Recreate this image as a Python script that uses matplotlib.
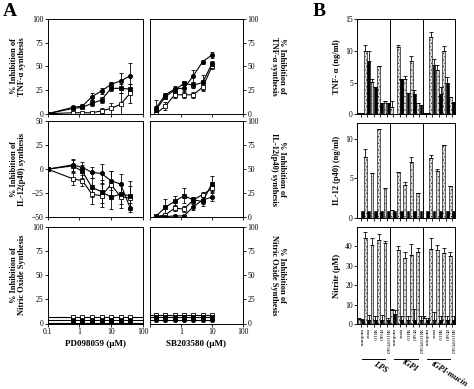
import numpy as np
import matplotlib
matplotlib.use('Agg')
import matplotlib.pyplot as plt
from matplotlib.transforms import blended_transform_factory

plt.rcParams['font.family'] = ['Liberation Serif', 'DejaVu Serif']
plt.rcParams['hatch.linewidth'] = 0.4

# ---------------- Panel A data ----------------
pd_conc = [0.1, 0.625, 1.25, 2.5, 5, 10, 20, 40]
sb_conc = [0.156, 0.3125, 0.625, 1.25, 2.5, 5, 10]

tnf_pd_circ = [0, 6.7, 8, 18, 24, 31, 34.5, 40]
tnf_pd_circ_err = [0, 1, 2, 4, 3, 3, 9, 14]
tnf_pd_fsq = [0, 5.6, 6.7, 11, 14.4, 26.8, 26.8, 26]
tnf_pd_fsq_err = [0, 1, 1, 3, 3, 3, 5, 5]
tnf_pd_osq = [0, 1, 1, 1, 3, 5.6, 10, 21.5]
tnf_pd_osq_err = [0, 1, 1, 1, 3, 6, 12, 10]

tnf_sb_circ = [6, 20, 26, 27, 40, 55, 62]
tnf_sb_circ_err = [8, 2, 3, 3, 6, 2, 3]
tnf_sb_fsq = [4, 18, 25, 32, 30, 33, 53]
tnf_sb_fsq_err = [4, 3, 3, 2, 3, 8, 3]
tnf_sb_osq = [0, 8, 20, 20, 20, 28, 50]
tnf_sb_osq_err = [2, 4, 3, 3, 3, 4, 3]

il12_pd_circ = [0, 4.5, 1.7, -3.4, -4.5, -12, -15.5, -40]
il12_pd_circ_err = [0, 6, 6, 6, 10, 10, 10, 5]
il12_pd_fsq = [0, 3.4, -2.4, -19, -23.4, -29, -26, -27.6]
il12_pd_fsq_err = [0, 6, 7, 10, 12, 12, 10, 15]
il12_pd_osq = [0, -10, -12, -26, -27.6, -16, -28.6, -30]
il12_pd_osq_err = [0, 6, 6, 10, 12, 14, 12, 12]

il12_sb_circ = [0.7, 0.7, 1.4, 1.4, 11, 18, 21]
il12_sb_circ_err = [1, 1, 1, 1, 3, 4, 4]
il12_sb_fsq = [1, 10.5, 16.5, 22.5, 18, 16.5, 35]
il12_sb_fsq_err = [1, 8, 6, 8, 3, 5, 8]
il12_sb_osq = [0.7, 2.5, 9.5, 8.5, 18, 23.6, 30]
il12_sb_osq_err = [1, 2, 3, 3, 3, 3, 4]

no_pd_x = [0.1, 0.625, 1.25, 2.5, 5, 10, 20, 40, 100]
no_pd_circ = [0.7] * 9
no_pd_fsq = [3.6] * 9
no_pd_osq = [6.4] * 9
no_sb_x = [0.1, 0.156, 0.3125, 0.625, 1.25, 2.5, 5, 10]
no_sb_circ = [3.8] * 8
no_sb_fsq = [6.2] * 8
no_sb_osq = [8.6] * 8

# ---------------- Panel B data ----------------
groups = ['LPS', 'tGPI', 'tGPI-mucin']
treatments = ['medium', 'none', 'SB10', 'PD40', 'SB10/PD40']

tnf_light = [[0.2, 10.0, 5.1, 7.6, 2.1],
             [1.2, 10.6, 5.5, 8.4, 1.8],
             [0.2, 12.2, 7.0, 10.0, 2.8]]
tnf_light_err = [[0, 0.9, 0.5, 0, 0],
                 [0.9, 0.3, 0.5, 0.8, 0],
                 [0, 0.8, 0.7, 0.8, 0]]
tnf_black = [[0.2, 8.4, 4.3, 1.7, 1.7],
             [0.1, 5.5, 3.4, 3.2, 1.4],
             [0.2, 7.7, 3.2, 5.0, 2.0]]
tnf_black_err = [[0, 1.6, 0, 0, 0],
                 [0, 0, 0, 0.7, 0],
                 [0, 1.0, 1.1, 0.8, 0]]

il12_light = [[0.1, 7.7, 5.7, 11.2, 3.8],
              [1.1, 5.8, 4.2, 7.1, 3.2],
              [0.1, 7.6, 5.9, 9.2, 4.0]]
il12_light_err = [[0, 1.0, 0, 0, 0],
                  [0, 0, 0.3, 0.6, 0],
                  [0, 0.4, 0.3, 0, 0]]
il12_black = [[0.9, 0.9, 0.9, 0.9, 0.9],
              [0.9, 0.9, 0.9, 0.9, 0.9],
              [0.9, 0.9, 0.9, 0.9, 0.9]]

no_light = [[2.5, 44.3, 40.5, 43.4, 41.7],
            [7.4, 38.3, 34.0, 35.7, 37.0],
            [3.0, 38.8, 38.0, 36.5, 34.8]]
no_light_err = [[0.5, 3.0, 3.5, 2.9, 1.2],
                [0.5, 1.7, 2.9, 5.6, 2.0],
                [1.3, 5.2, 2.8, 2.5, 2.2]]
no_black = [[2.0, 2.0, 2.0, 2.0, 2.0],
            [5.5, 2.0, 2.0, 2.0, 2.0],
            [2.0, 2.0, 2.0, 2.0, 2.0]]
no_black_err = [[0.5, 3.0, 2.0, 3.0, 1.0],
                [2.0, 2.0, 2.0, 6.0, 2.0],
                [1.0, 4.5, 2.0, 2.0, 2.0]]

W, H = 474, 389
fig = plt.figure(figsize=(W / 100, H / 100), dpi=100)


def rect(x0, y0, x1, y1):
    return [x0 / W, 1 - y1 / H, (x1 - x0) / W, (y1 - y0) / H]


TICK = dict(direction='out', length=2.2, width=0.6, labelsize=5.5, pad=1)
LAB = dict(fontsize=6, fontweight='bold', linespacing=1.0)


def series(ax, x, y, err, style, mevery=None):
    mk = {'circ': ('o', 'black'), 'fsq': ('s', 'black'), 'osq': ('s', 'white')}[style]
    kw = dict(color='black', lw=0.8, marker=mk[0], ms=3, mfc=mk[1], mec='black', mew=0.6)
    if err is None:
        ax.plot(x, y, markevery=mevery, **kw)
    else:
        ax.errorbar(x, y, yerr=err, elinewidth=0.6, capsize=1.5, capthick=0.6, **kw)


rows_y = [(19, 113.7), (121, 217.3), (226.7, 323.5)]
left_x = (47.7, 142.7)
right_x = (150, 243)
ylabels = ['% Inhibition of\nTNF-\u03b1 synthesis',
           '% Inhibition of\nIL-12(p40) synthesis',
           '% Inhibition of\nNitric Oxide Synthesis']

# Left column (PD098059)
for r in range(3):
    ax = fig.add_axes(rect(left_x[0], rows_y[r][0], left_x[1], rows_y[r][1]))
    ax.set_xscale('log')
    ax.set_xlim(0.1, 100)
    if r == 0:
        series(ax, pd_conc, tnf_pd_osq, tnf_pd_osq_err, 'osq')
        series(ax, pd_conc, tnf_pd_fsq, tnf_pd_fsq_err, 'fsq')
        series(ax, pd_conc, tnf_pd_circ, tnf_pd_circ_err, 'circ')
        ax.set_ylim(0, 100)
        ax.set_yticks([0, 25, 50, 75, 100])
    elif r == 1:
        series(ax, pd_conc, il12_pd_osq, il12_pd_osq_err, 'osq')
        series(ax, pd_conc, il12_pd_fsq, il12_pd_fsq_err, 'fsq')
        series(ax, pd_conc, il12_pd_circ, il12_pd_circ_err, 'circ')
        ax.set_ylim(-50, 50)
        ax.set_yticks([-50, -25, 0, 25, 50])
    else:
        series(ax, no_pd_x, no_pd_osq, None, 'osq', list(range(1, 8)))
        series(ax, no_pd_x, no_pd_fsq, None, 'fsq', list(range(1, 8)))
        series(ax, no_pd_x, no_pd_circ, None, 'circ', list(range(1, 8)))
        ax.set_ylim(0, 100)
        ax.set_yticks([0, 25, 50, 75, 100])
    ax.set_xticks([0.1, 1, 10, 100])
    ax.minorticks_off()
    ax.tick_params(**TICK)
    if r < 2:
        ax.set_xticklabels([])
    else:
        ax.set_xticklabels(['0.1', '1', '10', '100'])
        ax.set_xlabel('PD098059 (\u00b5M)', fontsize=6.5, fontweight='bold', labelpad=3)
    ax.set_ylabel(ylabels[r], labelpad=4, **LAB)
    for s in ax.spines.values():
        s.set_linewidth(0.7)

# Right column (SB203580)
for r in range(3):
    ax = fig.add_axes(rect(right_x[0], rows_y[r][0], right_x[1], rows_y[r][1]))
    ax.set_xscale('log')
    ax.set_xlim(0.1, 100)
    if r == 0:
        series(ax, sb_conc, tnf_sb_osq, tnf_sb_osq_err, 'osq')
        series(ax, sb_conc, tnf_sb_fsq, tnf_sb_fsq_err, 'fsq')
        series(ax, sb_conc, tnf_sb_circ, tnf_sb_circ_err, 'circ')
    elif r == 1:
        series(ax, sb_conc, il12_sb_osq, il12_sb_osq_err, 'osq')
        series(ax, sb_conc, il12_sb_fsq, il12_sb_fsq_err, 'fsq')
        series(ax, sb_conc, il12_sb_circ, il12_sb_circ_err, 'circ')
    else:
        series(ax, no_sb_x, no_sb_osq, None, 'osq', list(range(1, 8)))
        series(ax, no_sb_x, no_sb_fsq, None, 'fsq', list(range(1, 8)))
        series(ax, no_sb_x, no_sb_circ, None, 'circ', list(range(1, 8)))
    ax.set_ylim(0, 100)
    ax.set_yticks([0, 25, 50, 75, 100])
    ax.yaxis.tick_right()
    ax.yaxis.set_label_position('right')
    ax.set_xticks([0.1, 1, 10, 100])
    ax.minorticks_off()
    ax.tick_params(**TICK)
    if r < 2:
        ax.set_xticklabels([])
    else:
        ax.set_xticklabels(['', '1', '10', '100'])
        ax.set_xlabel('SB203580 (\u00b5M)', fontsize=6.5, fontweight='bold', labelpad=3)
    ax.set_ylabel(ylabels[r], rotation=270, va='bottom', labelpad=8, **LAB)
    for s in ax.spines.values():
        s.set_linewidth(0.7)

# ---------------- Panel B ----------------
b_x = (357.3, 455.3)
b_rows = [(19, 114.3), (122.7, 218.3), (226.7, 324.3)]
b_specs = [
    (tnf_light, tnf_light_err, tnf_black, tnf_black_err, (0, 15), [0, 5, 10, 15], 'TNF- \u03b1 (ng/ml)'),
    (il12_light, il12_light_err, il12_black, None, (0, 12), [0, 5, 10], 'IL-12 (p40) (ng/ml)'),
    (no_light, no_light_err, no_black, no_black_err, (0, 50), [0, 10, 20, 30, 40], 'Nitrite (\u00b5M)'),
]
for r, (light, lerr, black, berr, ylim, yt, lab) in enumerate(b_specs):
    ax = fig.add_axes(rect(b_x[0], b_rows[r][0], b_x[1], b_rows[r][1]))
    for g in range(3):
        base = g * 10
        xs_l = [base + c * 2 for c in range(5)]
        xs_b = [base + c * 2 + 1 for c in range(5)]
        le = [[0] * 5, lerr[g]]
        ax.bar(xs_l, light[g], width=0.85, color='#d9d9d9', edgecolor='#222222',
               linewidth=0.5, hatch='.....', zorder=2)
        ax.errorbar(xs_l, light[g], yerr=le, fmt='none', ecolor='black',
                    elinewidth=0.6, capsize=1.2, capthick=0.6, zorder=3)
        ax.bar(xs_b, black[g], width=0.85, color='black', edgecolor='black',
               linewidth=0.4, zorder=2)
        if berr is not None:
            be = [[0] * 5, berr[g]]
            ax.errorbar(xs_b, black[g], yerr=be, fmt='none', ecolor='black',
                        elinewidth=0.6, capsize=1.2, capthick=0.6, zorder=3)
    for sep in (9.5, 19.5):
        ax.axvline(sep, color='black', lw=0.7, zorder=1)
    ax.set_xlim(-0.5, 29.5)
    ax.set_ylim(*ylim)
    ax.set_yticks(yt)
    centers = [g * 10 + c * 2 + 0.5 for g in range(3) for c in range(5)]
    ax.set_xticks(centers)
    ax.tick_params(**TICK)
    ax.set_ylabel(lab, labelpad=3, **LAB)
    for s in ax.spines.values():
        s.set_linewidth(0.7)
    if r < 2:
        ax.set_xticklabels([])
    else:
        ax.set_xticklabels(treatments * 3, rotation=270, fontsize=3.8)
        tr = blended_transform_factory(ax.transData, ax.transAxes)
        label_pos = [(6.6, -0.443), (15.6, -0.42), (27.8, -0.51)]
        for g in range(3):
            ax.plot([g * 10 + 0.8, g * 10 + 8.0], [-0.355, -0.355], color='black',
                    lw=0.7, transform=tr, clip_on=False)
            ax.text(label_pos[g][0], label_pos[g][1], groups[g], transform=tr,
                    rotation=-32, ha='center', va='center', fontsize=6,
                    fontweight='bold', fontstyle='italic')

fig.text(3 / W, 1 - 12 / H, 'A', fontsize=14, fontweight='bold', va='center', ha='left')
fig.text(313 / W, 1 - 12 / H, 'B', fontsize=14, fontweight='bold', va='center', ha='left')

fig.savefig('out.png', dpi=100)
